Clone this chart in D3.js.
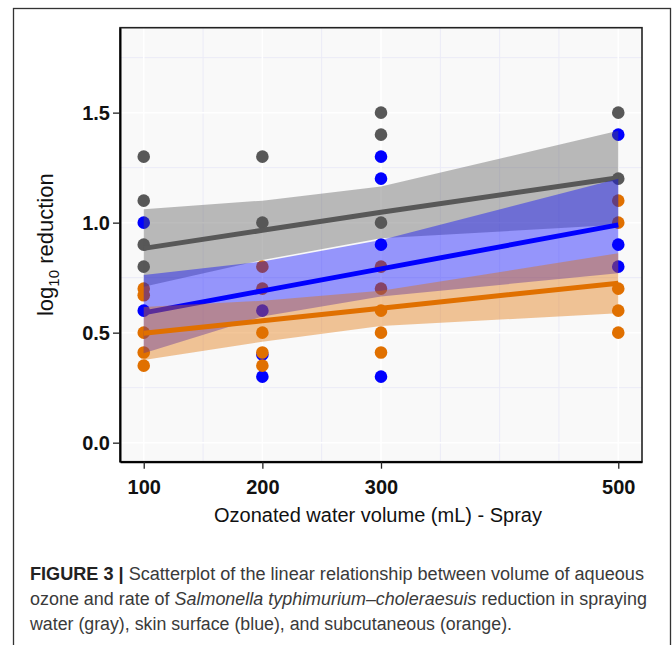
<html>
<head>
<meta charset="utf-8">
<title>ozone spray scatter</title>
<style>
  body { margin:0; padding:0; background:#fff; }
  svg { display:block; font-family:"Liberation Sans", Arial, sans-serif; }
  .tick text { font-weight:bold; font-size:20px; fill:#111; }
  .caption { font-size:18px; fill:#3a3a3a; }
</style>
</head>
<body>
<svg width="672" height="645"></svg>
<script src="https://d3js.org/d3.v7.min.js"></script>
<script>
// volumes tested (x breaks)
var volumes = [100, 200, 300, 500];
var yTicks = [0, 0.5, 1.0, 1.5];

// raw points: [volume, log10 reduction]
var waterPts = [[100,1.3],[100,1.1],[100,0.9],[100,0.8],
                [200,1.3],[200,1.0],
                [300,1.5],[300,1.4],[300,1.0],
                [500,1.5],[500,1.2]];
var skinPts = [[100,1.0],[100,0.6],
               [200,0.6],[200,0.4],[200,0.3],
               [300,1.3],[300,1.2],[300,0.9],[300,0.3],
               [500,1.4],[500,0.9],[500,0.8]];
var subcPts = [[100,0.7],[100,0.67],[100,0.5],[100,0.41],[100,0.35],
               [200,0.8],[200,0.7],[200,0.5],[200,0.41],[200,0.35],
               [300,0.8],[300,0.7],[300,0.6],[300,0.5],[300,0.41],
               [500,1.1],[500,1.0],[500,0.7],[500,0.6],[500,0.5]];

// fitted line and confidence band at each volume
var waterFit = [0.883, 0.965, 1.047, 1.204];
var waterLo  = [0.709, 0.830, 0.929, 0.990];
var waterHi  = [1.061, 1.100, 1.164, 1.418];
var skinFit  = [0.590, 0.690, 0.790, 0.990];
var skinLo   = [0.406, 0.573, 0.664, 0.770];
var skinHi   = [0.762, 0.823, 0.921, 1.200];
var subcFit  = [0.497, 0.554, 0.611, 0.725];
var subcLo   = [0.376, 0.459, 0.530, 0.588];
var subcHi   = [0.617, 0.645, 0.690, 0.861];

var colours = { water:"#585858", skin:"#0000ff", subc:"#e07000" };

var series = [
  { key:"water", pts:waterPts, fit:waterFit, lo:waterLo, hi:waterHi },
  { key:"skin",  pts:skinPts,  fit:skinFit,  lo:skinLo,  hi:skinHi },
  { key:"subc",  pts:subcPts,  fit:subcFit,  lo:subcLo,  hi:subcHi }
];

var svg = d3.select("svg");

// outer figure frame
svg.append("rect")
  .attr("x", 13.5).attr("y", 8.5)
  .attr("width", 657).attr("height", 660)
  .attr("fill", "none").attr("stroke", "#333").attr("stroke-width", 1.3);

var pLeft = 120, pRight = 642, pTop = 27.7, pBottom = 461.7;

var x = d3.scaleLinear().domain([80, 520]).range([pLeft, pRight]);
var y = d3.scaleLinear().domain([-0.0865, 1.886]).range([pBottom, pTop]);

// panel
svg.append("rect")
  .attr("x", pLeft).attr("y", pTop)
  .attr("width", pRight-pLeft).attr("height", pBottom-pTop)
  .attr("fill", "#f9f9f9");

var grid = svg.append("g");
// minor grid
var minorX = [150, 250, 350, 400, 450];
var minorY = [0.25, 0.75, 1.25, 1.75];
grid.selectAll(".mx").data(minorX).enter().append("line")
  .attr("x1", function(d){ return x(d); }).attr("x2", function(d){ return x(d); })
  .attr("y1", pTop).attr("y2", pBottom)
  .attr("stroke", "#ebebf7").attr("stroke-width", 1);
grid.selectAll(".my").data(minorY).enter().append("line")
  .attr("y1", function(d){ return y(d); }).attr("y2", function(d){ return y(d); })
  .attr("x1", pLeft).attr("x2", pRight)
  .attr("stroke", "#ebebf7").attr("stroke-width", 1);
// major grid
grid.selectAll(".Mx").data(volumes).enter().append("line")
  .attr("x1", function(d){ return x(d); }).attr("x2", function(d){ return x(d); })
  .attr("y1", pTop).attr("y2", pBottom)
  .attr("stroke", "#ffffff").attr("stroke-width", 1.5);
grid.selectAll(".My").data(yTicks).enter().append("line")
  .attr("y1", function(d){ return y(d); }).attr("y2", function(d){ return y(d); })
  .attr("x1", pLeft).attr("x2", pRight)
  .attr("stroke", "#ffffff").attr("stroke-width", 1.5);

// points first, ribbons and lines drawn over them
var pts = svg.append("g");
series.forEach(function(s){
  pts.selectAll(null).data(s.pts).enter().append("circle")
    .attr("cx", function(d){ return x(d[0]); })
    .attr("cy", function(d){ return y(d[1]); })
    .attr("r", 6.3)
    .attr("fill", colours[s.key]);
});

var area = d3.area()
  .x(function(d){ return x(d.v); })
  .y0(function(d){ return y(d.lo); })
  .y1(function(d){ return y(d.hi); });
var line = d3.line()
  .x(function(d){ return x(d.v); })
  .y(function(d){ return y(d.fit); });

series.forEach(function(s){
  var rows = volumes.map(function(v, i){ return { v:v, fit:s.fit[i], lo:s.lo[i], hi:s.hi[i] }; });
  svg.append("path").datum(rows)
    .attr("d", area)
    .attr("fill", colours[s.key]).attr("fill-opacity", 0.4);
  svg.append("path").datum(rows)
    .attr("d", line)
    .attr("fill", "none")
    .attr("stroke", colours[s.key]).attr("stroke-width", 5);
});

// panel border
svg.append("rect")
  .attr("x", pLeft).attr("y", pTop)
  .attr("width", pRight-pLeft).attr("height", pBottom-pTop)
  .attr("fill", "none").attr("stroke", "#222").attr("stroke-width", 1.6);

// axes
var xAxis = d3.axisBottom(x).tickValues(volumes).tickSizeInner(7).tickSizeOuter(0).tickPadding(8);
var yAxis = d3.axisLeft(y).tickValues(yTicks).tickSizeInner(7).tickSizeOuter(0).tickPadding(3).tickFormat(d3.format(".1f"));

var gx = svg.append("g").attr("transform", "translate(0," + pBottom + ")").call(xAxis);
var gy = svg.append("g").attr("transform", "translate(" + pLeft + ",0)").call(yAxis);
[gx, gy].forEach(function(g){
  g.select(".domain").attr("stroke", "#000").attr("stroke-width", 2);
  g.selectAll(".tick line").attr("stroke", "#222").attr("stroke-width", 1.3);
});
gx.selectAll(".tick text").attr("dy", "0.85em");

// axis titles
svg.append("text")
  .attr("x", (pLeft+pRight)/2 - 3).attr("y", 522)
  .attr("text-anchor", "middle")
  .style("font-size", "20px").style("fill", "#111")
  .text("Ozonated water volume (mL) - Spray");

var yt = svg.append("text")
  .attr("transform", "translate(53," + ((pTop+pBottom)/2) + ") rotate(-90)")
  .attr("text-anchor", "middle")
  .style("font-size", "22px").style("fill", "#111");
yt.append("tspan").text("log");
yt.append("tspan").attr("dy", 6).style("font-size", "15px").text("10");
yt.append("tspan").attr("dy", -6).text(" reduction");

// caption
var c1 = svg.append("text").attr("class", "caption")
  .attr("x", 30).attr("y", 580)
  .attr("textLength", 614).attr("lengthAdjust", "spacingAndGlyphs");
c1.append("tspan").style("font-weight", "bold").style("fill", "#222").text("FIGURE 3 |");
c1.append("tspan").text(" Scatterplot of the linear relationship between volume of aqueous");

var c2 = svg.append("text").attr("class", "caption")
  .attr("x", 30).attr("y", 605)
  .attr("textLength", 617).attr("lengthAdjust", "spacingAndGlyphs");
c2.append("tspan").text("ozone and rate of ");
c2.append("tspan").style("font-style", "italic").text("Salmonella typhimurium\u2013choleraesuis");
c2.append("tspan").text(" reduction in spraying");

svg.append("text").attr("class", "caption")
  .attr("x", 30).attr("y", 630)
  .attr("textLength", 482).attr("lengthAdjust", "spacingAndGlyphs")
  .text("water (gray), skin surface (blue), and subcutaneous (orange).");
</script>
</body>
</html>
